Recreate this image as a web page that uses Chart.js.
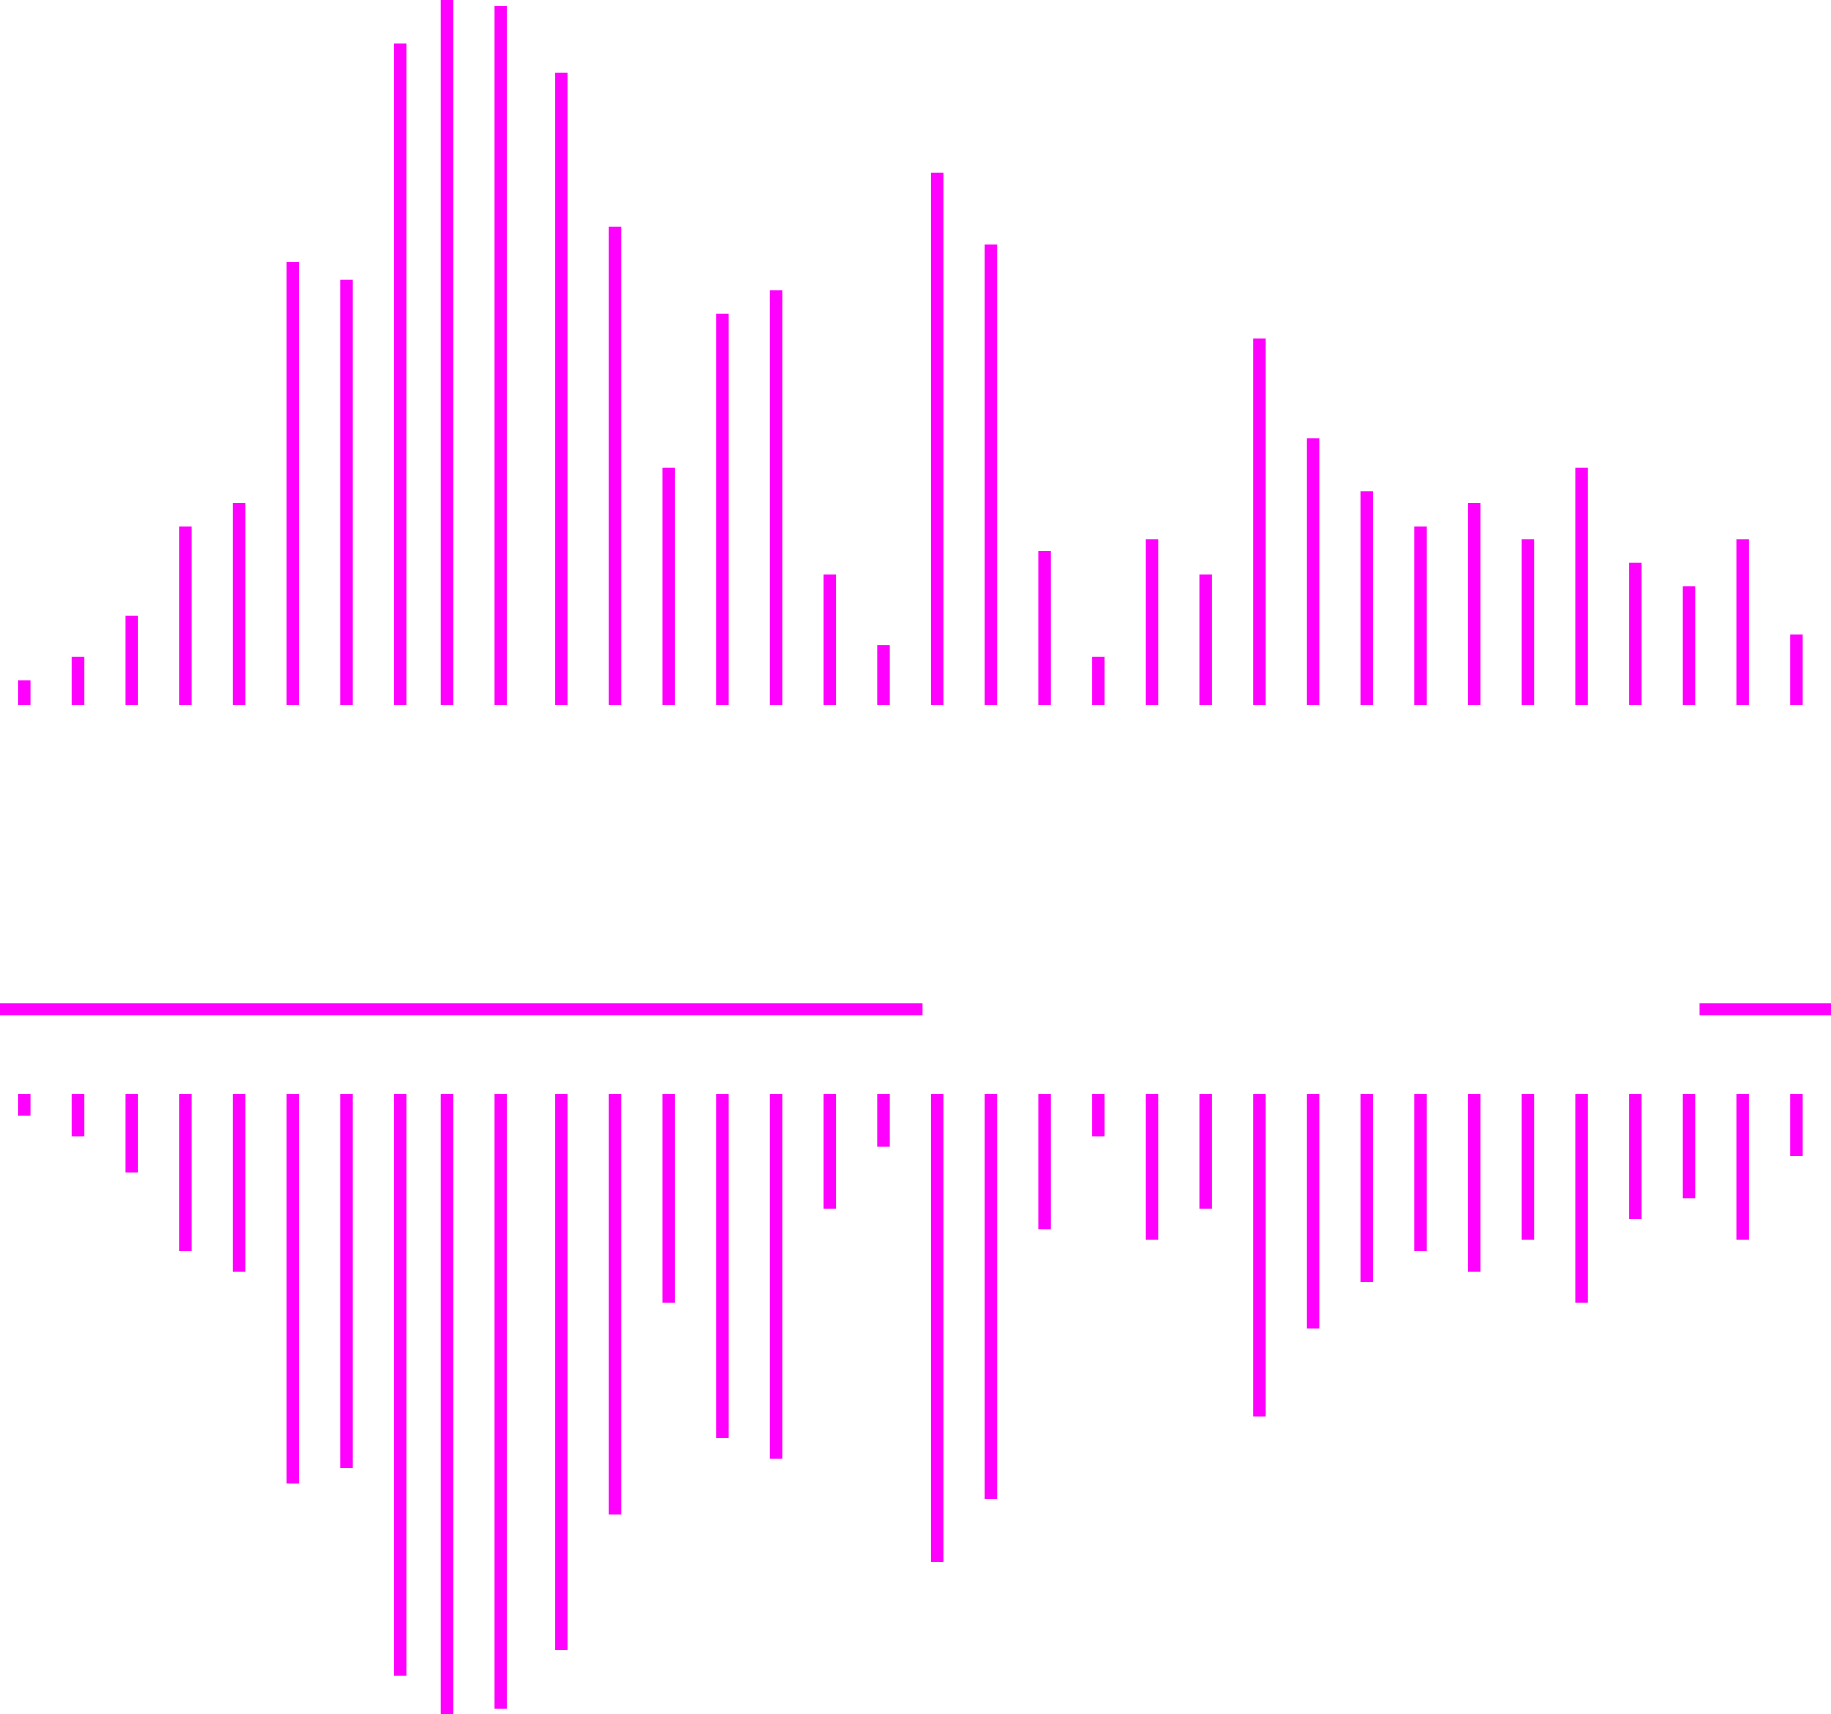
<!DOCTYPE html>
<html>
<head>
<meta charset="utf-8">
<title>Waveform</title>
<script src="https://cdn.jsdelivr.net/npm/chart.js@4.4.1/dist/chart.umd.min.js"></script>
<style>
  html, body { margin: 0; padding: 0; background: #fff; }
  #wrap { width: 1831px; height: 1714px; }
</style>
</head>
<body>
<div id="wrap"><canvas id="waveChart"></canvas></div>
<script>
// one slot per bar, read left to right
const slots = [0, 1, 2, 3, 4, 5, 6, 7, 8, 9, 10, 11, 12, 13, 14, 15, 16,
               17, 18, 19, 20, 21, 22, 23, 24, 25, 26, 27, 28, 29, 30, 31, 32, 33];
const levels = [2.1, 4.1, 7.6, 15.2, 17.2, 37.7, 36.2, 56.3, 60, 59.5, 53.8, 40.7,
                20.2, 33.3, 35.3, 11.1, 5.1, 45.3, 39.2, 13.1, 4.1, 14.1, 11.1, 31.2,
                22.7, 18.2, 15.2, 17.2, 14.1, 20.2, 12.1, 10.1, 14.1, 6];
// the two loudest slots are drawn as a separate, highlighted series
// that starts a little below the zero line
const peakSlots = [8, 9];
const peakFloor = -0.34;
// progress track in the middle band (slot units), with a gap
const trackSegments = [[-0.4, 16.79], [31.26, 33.8]];
const trackLevel = 21.8;

const magenta = '#ff00ff';

const normalPoints = slots.map((s, i) => ({ x: s, y: peakSlots.includes(s) ? null : levels[i] }));
const peakPoints = slots.map((s, i) => ({ x: s, y: peakSlots.includes(s) ? [peakFloor, levels[i]] : null }));

const trackPoints = [];
trackSegments.forEach((seg, k) => {
    if (k > 0) {
        trackPoints.push({ x: (trackSegments[k - 1][1] + seg[0]) / 2, y: null });
    }
    trackPoints.push({ x: seg[0], y: trackLevel }, { x: seg[1], y: trackLevel });
});

document.addEventListener("DOMContentLoaded", () => {
    const ctx = document.getElementById('waveChart').getContext('2d');

    new Chart(ctx, {
        type: 'bar',
        data: {
            datasets: [
                { label: 'Peak', data: peakPoints, yAxisID: 'yTop', stack: 'peak' },
                { label: 'Peak mirror', data: peakPoints, yAxisID: 'yBot', stack: 'peak' },
                { label: 'Level', data: normalPoints, yAxisID: 'yTop', stack: 'level' },
                { label: 'Level mirror', data: normalPoints, yAxisID: 'yBot', stack: 'level' },
                {
                    type: 'line',
                    label: 'Track',
                    data: trackPoints,
                    yAxisID: 'yMid',
                    borderColor: magenta,
                    borderWidth: 12,
                    borderCapStyle: 'butt',
                    pointRadius: 0,
                    spanGaps: false,
                    fill: false
                }
            ]
        },
        options: {
            responsive: true,
            maintainAspectRatio: false,
            animation: false,
            events: [],
            layout: { padding: 0 },
            datasets: {
                bar: {
                    backgroundColor: magenta,
                    borderWidth: 0,
                    categoryPercentage: 0.257,
                    barPercentage: 1.81
                }
            },
            plugins: {
                legend: { display: false },
                tooltip: { enabled: false }
            },
            scales: {
                x: {
                    type: 'linear',
                    display: false,
                    offset: false,
                    min: -0.3883,
                    max: 33.7085,
                    ticks: { includeBounds: false }
                },
                yTop: {
                    display: false,
                    position: 'right',
                    stack: 'wave',
                    stackWeight: 705,
                    stacked: false,
                    min: 0,
                    max: 60
                },
                yMid: {
                    display: false,
                    position: 'right',
                    stack: 'wave',
                    stackWeight: 389,
                    min: 0,
                    max: 100
                },
                yBot: {
                    display: false,
                    position: 'right',
                    stack: 'wave',
                    stackWeight: 620,
                    stacked: false,
                    reverse: true,
                    min: 0,
                    max: 60
                }
            }
        }
    });
});
</script>
</body>
</html>
